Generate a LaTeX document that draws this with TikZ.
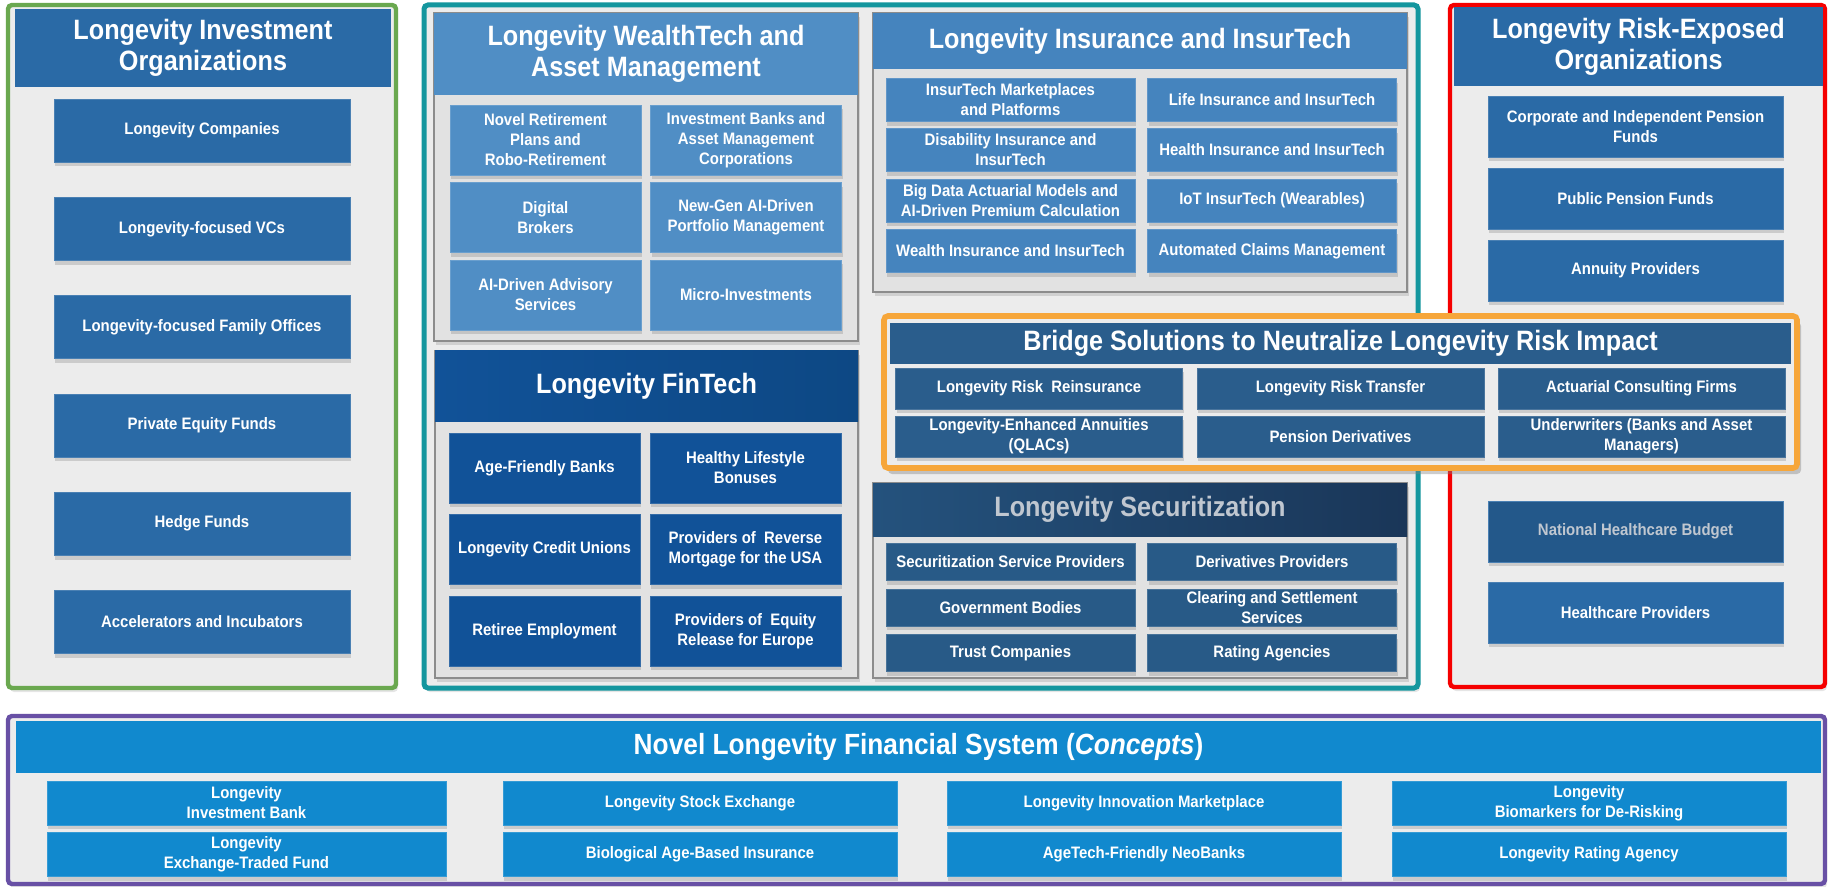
\documentclass[tikz,border=0pt]{standalone}
\usepackage{fontspec}
\setmainfont{Liberation Sans}[FakeStretch=0.9]
\usetikzlibrary{shadows}

\definecolor{framegray}{RGB}{236,236,236}
\definecolor{panelgray}{RGB}{226,226,226}
\definecolor{invblue}{RGB}{42,106,166}
\definecolor{wtblue}{RGB}{80,142,197}
\definecolor{insblue}{RGB}{69,132,190}
\definecolor{ftblue}{RGB}{17,82,152}
\definecolor{ftdark}{RGB}{13,72,132}
\definecolor{secblue}{RGB}{40,90,135}
\definecolor{secleft}{RGB}{36,82,125}
\definecolor{secright}{RGB}{26,54,88}
\definecolor{sectext}{RGB}{192,199,208}
\definecolor{brblue}{RGB}{42,93,140}
\definecolor{nhbblue}{RGB}{35,88,138}
\definecolor{novblue}{RGB}{17,137,206}
\definecolor{invgreen}{RGB}{106,168,79}
\definecolor{midteal}{RGB}{20,150,158}
\definecolor{riskred}{RGB}{245,0,0}
\definecolor{brorange}{RGB}{246,166,58}
\definecolor{novpurple}{RGB}{104,80,165}

\begin{document}
\begin{tikzpicture}[x=0.5pt, y=-0.5pt,
  every node/.style={text=white, align=center, inner sep=0pt, outer sep=0pt},
  tile/.style={fill=#1, draw=#1!85!white, line width=0.4pt, font=\fontsize{8.3}{10}\selectfont\bfseries,
    drop shadow={shadow xshift=0.6pt, shadow yshift=-2.2pt, opacity=0.3}},
  head/.style={fill=#1, font=\fontsize{14}{15.5}\selectfont\bfseries},
  frame/.style={draw=#1, fill=framegray, line width=2.2pt, rounded corners=2pt,
    drop shadow={shadow xshift=1pt, shadow yshift=-2pt, opacity=0.2}},
  panel/.style={draw=black!45, fill=panelgray, line width=0.6pt,
    drop shadow={shadow xshift=1pt, shadow yshift=-2pt, opacity=0.25}},
  invtile/.style={tile=invblue, minimum width=148pt, minimum height=31.5pt},
  wttile/.style={tile=wtblue, minimum width=95.5pt, minimum height=35pt},
  fttile/.style={tile=ftblue, minimum width=95.5pt, minimum height=35pt},
  instile/.style={tile=insblue, minimum width=124.5pt, minimum height=21.5pt},
  sectile/.style={tile=secblue, minimum width=124.5pt, minimum height=18.5pt},
  brtile/.style={tile=brblue, minimum width=143.5pt, minimum height=20.5pt},
  risktile/.style={tile=invblue, minimum width=147.5pt, minimum height=30.5pt},
  novtile/.style={tile=novblue, minimum height=22pt}]

\fill[white] (0,0) rectangle (1829,887);
\useasboundingbox (0,0) rectangle (1829,887);

% outer frames
\draw[frame=invgreen] (8,5) rectangle (396,688);
\draw[frame=midteal, line width=2.5pt] (424,5) rectangle (1418,688);
\draw[frame=riskred] (1450,5) rectangle (1825,687);
\draw[frame=novpurple] (8,716) rectangle (1825,884);

% investment organizations
\node[head=invblue, minimum width=188pt, minimum height=39pt] (invhead) at (203,48) {Longevity Investment\\Organizations};
\node[invtile] (inv1) at (202,130.5) {Longevity Companies};
\node[invtile] (inv2) at (202,228.8) {Longevity-focused VCs};
\node[invtile] (inv3) at (202,327.1) {Longevity-focused Family Offices};
\node[invtile] (inv4) at (202,425.4) {Private Equity Funds};
\node[invtile] (inv5) at (202,523.7) {Hedge Funds};
\node[invtile] (inv6) at (202,622) {Accelerators and Incubators};

% wealthtech
\draw[panel] (434,13) rectangle (858,341);
\node[head=wtblue, minimum width=212pt, minimum height=41pt] (wthead) at (646,54) {Longevity WealthTech and\\Asset Management};
\node[wttile] (wt1) at (545.5,140) {Novel Retirement\\Plans and\\Robo-Retirement};
\node[wttile] (wt2) at (746,140) {Investment Banks and\\Asset Management\\Corporations};
\node[wttile] (wt3) at (545.5,217.5) {Digital\\Brokers};
\node[wttile] (wt4) at (746,217.5) {New-Gen AI-Driven\\Portfolio Management};
\node[wttile] (wt5) at (545.5,295) {AI-Driven Advisory\\Services};
\node[wttile] (wt6) at (746,295) {Micro-Investments};

% fintech
\draw[panel] (435,351) rectangle (858,678);
\node[head=ftblue, right color=ftdark, left color=ftblue, minimum width=211.5pt, minimum height=35pt] (fthead) at (646.5,386) {Longevity FinTech};
\node[fttile] (ft1) at (544.5,468) {Age-Friendly Banks};
\node[fttile] (ft2) at (745.5,468) {Healthy Lifestyle\\Bonuses};
\node[fttile] (ft3) at (544.5,549.5) {Longevity Credit Unions};
\node[fttile] (ft4) at (745.5,549.5) {Providers of\ \ Reverse\\Mortgage for the USA};
\node[fttile] (ft5) at (544.5,631) {Retiree Employment};
\node[fttile] (ft6) at (745.5,631) {Providers of\ \ Equity\\Release for Europe};

% insurance
\draw[panel] (873,13) rectangle (1407,292);
\node[head=insblue, minimum width=267pt, minimum height=28pt] (inshead) at (1140,41) {Longevity Insurance and InsurTech};
\node[instile] (ins1) at (1010.5,100) {InsurTech Marketplaces\\and Platforms};
\node[instile] (ins2) at (1272,100) {Life Insurance and InsurTech};
\node[instile] (ins3) at (1010.5,150) {Disability Insurance and\\InsurTech};
\node[instile] (ins4) at (1272,150) {Health Insurance and InsurTech};
\node[instile] (ins5) at (1010.5,200.5) {Big Data Actuarial Models and\\AI-Driven Premium Calculation};
\node[instile] (ins6) at (1272,200.5) {IoT InsurTech (Wearables)};
\node[instile] (ins7) at (1010.5,251) {Wealth Insurance and InsurTech};
\node[instile] (ins8) at (1272,251) {Automated Claims Management};

% securitization
\draw[panel] (873,483) rectangle (1407,678);
\node[head=secblue, left color=secleft, right color=secright, text=sectext, minimum width=267pt, minimum height=26.5pt] (sechead) at (1140,509.5) {Longevity Securitization};
\node[sectile] (sec1) at (1010.5,562) {Securitization Service Providers};
\node[sectile] (sec2) at (1272,562) {Derivatives Providers};
\node[sectile] (sec3) at (1010.5,607.5) {Government Bodies};
\node[sectile] (sec4) at (1272,607.5) {Clearing and Settlement\\Services};
\node[sectile] (sec5) at (1010.5,653) {Trust Companies};
\node[sectile] (sec6) at (1272,653) {Rating Agencies};

% risk-exposed organizations
\node[head=invblue, minimum width=184.5pt, minimum height=39.5pt] (riskhead) at (1638.5,46.5) {Longevity Risk-Exposed\\Organizations};
\node[risktile] (risk1) at (1635.5,126.5) {Corporate and Independent Pension\\Funds};
\node[risktile] (risk2) at (1635.5,198.5) {Public Pension Funds};
\node[risktile] (risk3) at (1635.5,270.5) {Annuity Providers};
\node[risktile, fill=nhbblue, text=sectext] (risk4) at (1635.5,531.5) {National Healthcare Budget};
\node[risktile] (risk5) at (1635.5,612.5) {Healthcare Providers};

% bridge solutions
\draw[draw=brorange, fill=framegray, line width=2.8pt, rounded corners=2pt,
  drop shadow={shadow xshift=2pt, shadow yshift=-3pt, opacity=0.4}] (884,316) rectangle (1797,468);
\node[head=brblue, minimum width=450.5pt, minimum height=20.5pt] (brhead) at (1340.5,343.5) {Bridge Solutions to Neutralize Longevity Risk Impact};
\node[brtile] (br1) at (1039,388.5) {Longevity Risk\ \ Reinsurance};
\node[brtile] (br2) at (1340.5,388.5) {Longevity Risk Transfer};
\node[brtile] (br3) at (1641.5,388.5) {Actuarial Consulting Firms};
\node[brtile] (br4) at (1039,436.5) {Longevity-Enhanced Annuities\\(QLACs)};
\node[brtile] (br5) at (1340.5,436.5) {Pension Derivatives};
\node[brtile] (br6) at (1641.5,436.5) {Underwriters (Banks and Asset\\Managers)};

% novel financial system
\node[head=novblue, font=\fontsize{14.6}{16}\selectfont\bfseries, minimum width=902.5pt, minimum height=26pt] (novhead) at (918.5,747) {Novel Longevity Financial System (\textit{Concepts})};
\node[novtile, minimum width=199.5pt] (nov1) at (246.5,803) {Longevity\\Investment Bank};
\node[novtile, minimum width=197pt] (nov2) at (700,803) {Longevity Stock Exchange};
\node[novtile, minimum width=197pt] (nov3) at (1144,803) {Longevity Innovation Marketplace};
\node[novtile, minimum width=197pt] (nov4) at (1589,803) {Longevity\\Biomarkers for De-Risking};
\node[novtile, minimum width=199.5pt] (nov5) at (246.5,854.5) {Longevity\\Exchange-Traded Fund};
\node[novtile, minimum width=197pt] (nov6) at (700,854.5) {Biological Age-Based Insurance};
\node[novtile, minimum width=197pt] (nov7) at (1144,854.5) {AgeTech-Friendly NeoBanks};
\node[novtile, minimum width=197pt] (nov8) at (1589,854.5) {Longevity Rating Agency};
\end{tikzpicture}
\end{document}
